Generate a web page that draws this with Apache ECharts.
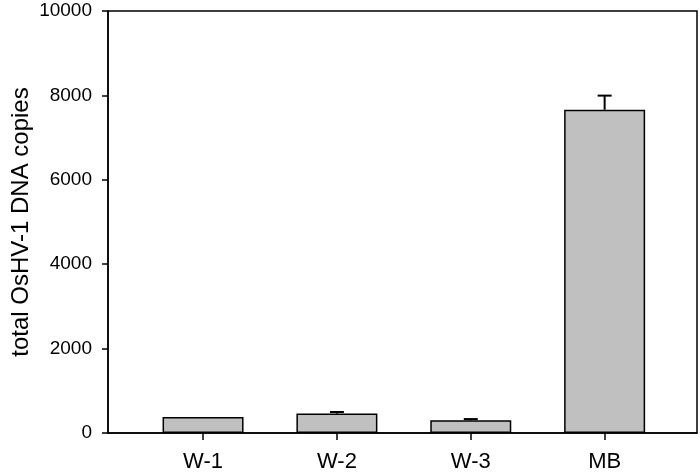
<!DOCTYPE html>
<html>
<head>
<meta charset="utf-8">
<script src="https://cdn.jsdelivr.net/npm/echarts@6/dist/echarts.min.js"></script>
<style>html,body{margin:0;padding:0;background:#fff}#c{width:700px;height:472px}</style>
</head>
<body>
<div id="c"></div>
<script>
var categories = ['W-1', 'W-2', 'W-3', 'MB'];
var values = [380, 460, 300, 7660];
var errors = [0, 38, 30, 335];
var yTicks = [0, 2000, 4000, 6000, 8000, 10000];

var chart = echarts.init(document.getElementById('c'), null, {renderer: 'canvas'});
var idx = categories.map(function (c, i) { return i; });
var barData = idx.map(function (i) { return [i, values[i]]; });
var errData = idx.map(function (i) { return [i, values[i], values[i] + errors[i]]; });
var font = 'Liberation Sans, Arial, sans-serif';

chart.setOption({
  animation: false,
  grid: {left: 108, right: 3, top: 11, bottom: 39, containLabel: false, outerBoundsMode: 'none',
    show: true, borderColor: '#000', borderWidth: 1.5, backgroundColor: 'transparent'},
  xAxis: {
    type: 'value', min: -0.71, max: 3.69,
    axisLine: {show: true, onZero: false, lineStyle: {color: '#000', width: 1.5}},
    axisTick: {show: true, length: 7, inside: false, customValues: idx, lineStyle: {color: '#000', width: 1.5}},
    axisLabel: {customValues: idx, formatter: function (v) { return categories[Math.round(v)]; }, color: '#000', fontFamily: font, fontSize: 22, margin: 18},
    splitLine: {show: false}
  },
  yAxis: {
    type: 'value', min: 0, max: 10000, interval: 2000,
    name: 'total OsHV-1 DNA copies', nameLocation: 'middle', nameGap: 75, nameRotate: 90,
    nameMoveOverlap: false,
    nameTextStyle: {color: '#000', fontFamily: font, fontSize: 24},
    axisLine: {show: true, onZero: false, lineStyle: {color: '#000', width: 1.5}},
    axisTick: {show: true, length: 6, inside: false, lineStyle: {color: '#000', width: 1.5}},
    axisLabel: {color: '#000', fontFamily: font, fontSize: 19, margin: 16,
      formatter: function (v) { return yTicks.indexOf(v) >= 0 ? String(v) : ''; }},
    splitLine: {show: false}
  },
  series: [
    {
      type: 'bar', data: barData, barWidth: 81,
      itemStyle: {color: '#c0c0c0', borderColor: '#000', borderWidth: 1.5},
      z: 2
    },
    {
      type: 'custom', data: errData, z: 3,
      renderItem: function (params, api) {
        var x = api.value(0), lo = api.value(1), hi = api.value(2);
        if (hi <= lo) return null;
        var p0 = api.coord([x, lo]), p1 = api.coord([x, hi]);
        var hw = 7;
        return {type: 'group', children: [
          {type: 'line', shape: {x1: p0[0], y1: p0[1], x2: p1[0], y2: p1[1]}, style: {stroke: '#000', lineWidth: 2}},
          {type: 'line', shape: {x1: p1[0] - hw, y1: p1[1], x2: p1[0] + hw, y2: p1[1]}, style: {stroke: '#000', lineWidth: 2}}
        ]};
      }
    }
  ]
});
</script>
</body>
</html>
